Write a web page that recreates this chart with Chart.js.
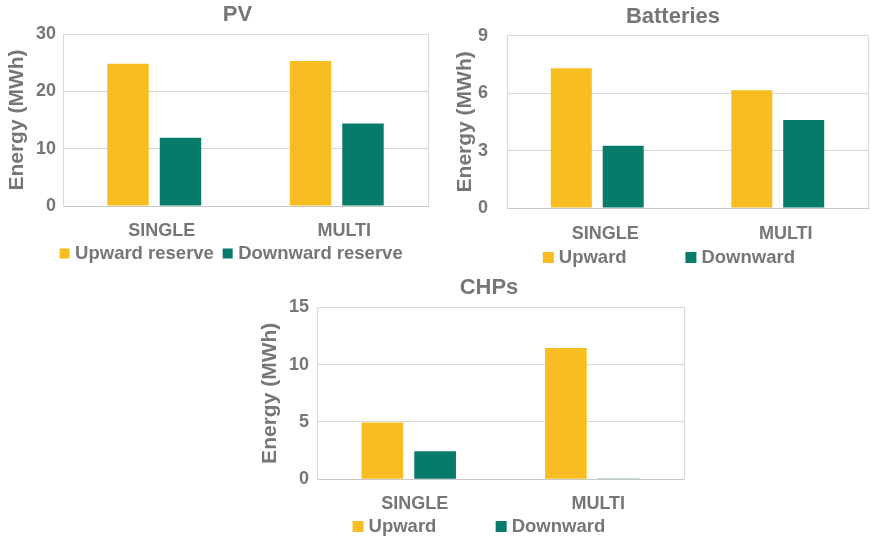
<!DOCTYPE html>
<html>
<head>
<meta charset="utf-8">
<script src="https://cdn.jsdelivr.net/npm/chart.js@4.4.1/dist/chart.umd.min.js"></script>
<style>
  html, body { margin: 0; padding: 0; background: #ffffff; width: 876px; height: 539px; overflow: hidden; position: relative; }
  canvas { position: absolute; }
</style>
</head>
<body>
<canvas id="pv" width="440" height="270" style="left:0px;top:0px"></canvas>
<canvas id="bat" width="436" height="270" style="left:440px;top:0px"></canvas>
<canvas id="chp" width="450" height="269" style="left:250px;top:270px"></canvas>
<script>
// Reserve energy per operating mode (MWh)
const groups = ['SINGLE', 'MULTI'];

const pvUpward = [24.8, 25.3];
const pvDownward = [11.9, 14.4];
const pvTicks = [0, 10, 20, 30];

const batUpward = [7.3, 6.15];
const batDownward = [3.25, 4.6];
const batTicks = [0, 3, 6, 9];

const chpUpward = [4.95, 11.45];
const chpDownward = [2.45, 0.06];
const chpTicks = [0, 5, 10, 15];

const pvNames = ['Upward reserve', 'Downward reserve'];
const shortNames = ['Upward', 'Downward'];
const yTitle = 'Energy (MWh)';

// Styling
const FONT = "'Liberation Sans', Arial, sans-serif";
const INK = '#767676';
const GRID = '#d9d9d9';
const AXIS = '#c8c8c8';
const YELLOW = '#F8BD20';
const TEAL = '#077B6A';

// Centres the title and the legend row on chosen points of the canvas
const boxPlace = {
  id: 'boxPlace',
  afterLayout(chart, args, opts) {
    const t = chart.titleBlock;
    if (t) {
      const w = t.right - t.left;
      t.left = opts.titleX - w / 2;
      t.right = t.left + w;
    }
    const lg = chart.legend;
    if (lg) {
      const w = lg.right - lg.left;
      lg.left = opts.legendX - w / 2;
      lg.right = lg.left + w;
      lg.top = opts.legendY - opts.pad - opts.fs / 2;
      lg.bottom = lg.top + opts.pad + opts.fs + 10;
      lg.height = lg.bottom - lg.top;
    }
  }
};

// Thin frame on the right side of the plot area
const plotFrame = {
  id: 'plotFrame',
  beforeDatasetsDraw(chart, args, opts) {
    const a = chart.chartArea;
    const ctx = chart.ctx;
    ctx.save();
    ctx.strokeStyle = opts.color;
    ctx.lineWidth = 1;
    ctx.beginPath();
    const x = Math.round(a.right) + 0.5;
    ctx.moveTo(x, a.top);
    ctx.lineTo(x, a.bottom);
    ctx.stroke();
    ctx.restore();
  }
};

function makeChart(id, cfg) {
  const legendFs = 18.5;
  return new Chart(document.getElementById(id), {
    type: 'bar',
    data: {
      labels: groups,
      datasets: [
        { label: cfg.names[0], data: cfg.up, backgroundColor: YELLOW, borderWidth: 0 },
        { label: cfg.names[1], data: cfg.down, backgroundColor: TEAL, borderWidth: 0 }
      ]
    },
    options: {
      responsive: false,
      animation: false,
      devicePixelRatio: 1,
      layout: { padding: { left: 0, right: cfg.padRight, top: 0, bottom: 0 } },
      datasets: { bar: { categoryPercentage: 0.575, barPercentage: 0.79 } },
      plugins: {
        title: {
          display: true,
          text: cfg.title,
          color: INK,
          font: { family: FONT, size: 22, weight: 'bold', lineHeight: 1.2 },
          padding: { top: cfg.titlePad[0], bottom: cfg.titlePad[1] }
        },
        legend: {
          position: 'bottom',
          maxHeight: 24,
          labels: {
            color: INK,
            font: { family: FONT, size: legendFs, weight: 'bold' },
            usePointStyle: true,
            pointStyle: 'rect',
            boxWidth: 2.5,
            boxHeight: cfg.box,
            padding: cfg.legendGap
          }
        },
        tooltip: { enabled: false },
        boxPlace: {
          titleX: cfg.titleX,
          legendX: cfg.legendX, legendY: cfg.legendY,
          pad: cfg.legendGap, fs: legendFs
        },
        plotFrame: { color: GRID }
      },
      scales: {
        x: {
          grid: { display: false },
          border: { display: true, color: AXIS, width: 1 },
          ticks: {
            color: INK,
            font: { family: FONT, size: 18, weight: 'bold' },
            padding: cfg.xPad,
            labelOffset: cfg.xShift,
            maxRotation: 0
          },
          afterFit: s => { s.height = cfg.xH; }
        },
        y: {
          min: cfg.ticks[0],
          max: cfg.ticks[cfg.ticks.length - 1],
          grid: { color: GRID, lineWidth: 1, drawTicks: false },
          border: { display: true, color: GRID, width: 1 },
          ticks: {
            color: INK,
            font: { family: FONT, size: 18, weight: 'bold' },
            padding: cfg.yTickPad
          },
          afterBuildTicks: s => { s.ticks = cfg.ticks.map(v => ({ value: v })); },
          afterFit: s => { s.width = cfg.yW; },
          title: {
            display: true,
            text: yTitle,
            color: INK,
            font: { family: FONT, size: 21, weight: 'bold', lineHeight: 1.2 },
            padding: { top: cfg.yTitlePad, bottom: 0 }
          }
        }
      }
    },
    plugins: [boxPlace, plotFrame]
  });
}

makeChart('pv', {
  title: 'PV', names: pvNames, up: pvUpward, down: pvDownward, ticks: pvTicks,
  padRight: 12, yW: 63, yTickPad: 7, yTitlePad: 4.4,
  titlePad: [1.8, 5.8], titleX: 237.5, xH: 40, xPad: 6, xShift: 7.5,
  legendX: 233, legendY: 253.5, legendGap: 12.5, box: 10
});

makeChart('bat', {
  title: 'Batteries', names: shortNames, up: batUpward, down: batDownward, ticks: batTicks,
  padRight: 8, yW: 67, yTickPad: 19, yTitlePad: 12.4,
  titlePad: [3.8, 5.5], titleX: 233, xH: 38, xPad: 7, xShift: 8,
  legendX: 231, legendY: 257.5, legendGap: 63, box: 11
});

makeChart('chp', {
  title: 'CHPs', names: shortNames, up: chpUpward, down: chpDownward, ticks: chpTicks,
  padRight: 16, yW: 67, yTickPad: 8, yTitlePad: 7.4,
  titlePad: [4.3, 6.6], titleX: 239, xH: 35.7, xPad: 6, xShift: 6,
  legendX: 231, legendY: 256.5, legendGap: 63.5, box: 11
});
</script>
</body>
</html>
